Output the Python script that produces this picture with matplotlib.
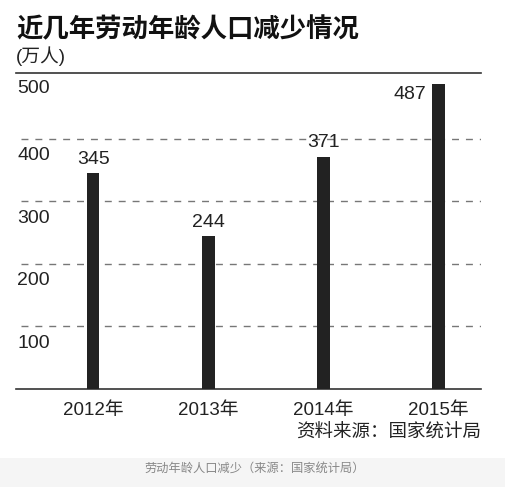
import matplotlib
matplotlib.use("Agg")
import matplotlib.pyplot as plt
from matplotlib.patches import Rectangle

years = ["2012年", "2013年", "2014年", "2015年"]
values = [345, 244, 371, 487]
yticks = [100, 200, 300, 400, 500]
title = "近几年劳动年龄人口减少情况"
unit = "(万人)"
source = "资料来源：国家统计局"
caption = "劳动年龄人口减少（来源：国家统计局）"

FAM = ["Liberation Sans", "Noto Sans CJK SC", "DejaVu Sans"]
CJK = ["Noto Sans CJK SC", "DejaVu Sans"]
plt.rcParams["font.family"] = FAM

W, H = 505, 487
fig = plt.figure(figsize=(W / 100, H / 100), dpi=100)
fig.patch.set_facecolor("white")

L, R, T, B = 16, 481, 73, 389
ax = fig.add_axes([L / W, 1 - B / H, (R - L) / W, (B - T) / H])
ax.set_xlim(-0.67, 3.37)
ax.set_ylim(0, 505)
ax.set_facecolor("none")

x = list(range(len(years)))
ax.bar(x, values, width=0.11, color="#222222", zorder=3)

for s in ["left", "right"]:
    ax.spines[s].set_visible(False)
for s in ["top", "bottom"]:
    ax.spines[s].set_color("#333333")
    ax.spines[s].set_linewidth(1.2)

for v in yticks[:-1]:
    ax.axhline(v, xmin=0.01, xmax=1, color="#777777", lw=1.0,
               linestyle=(0, (5, 5)), zorder=1)

ax.set_yticks([])
ax.set_xticks(x)
ax.set_xticklabels(years, fontsize=13.5, color="#222222")
ax.tick_params(axis="x", length=0, pad=9)

for v in yticks:
    ax.annotate(str(v), xy=(0, v), xycoords=("axes fraction", "data"),
                xytext=(1, -6 if v < 500 else -2.5), textcoords="offset points",
                ha="left", va="top", fontsize=14, color="#222222")

for xi, v in zip(x, values):
    if v > 450:
        ax.annotate(str(v), xy=(xi, v), xytext=(-9, -1),
                    textcoords="offset points", ha="right", va="top",
                    fontsize=14, color="#222222")
    else:
        ax.annotate(str(v), xy=(xi, v), xytext=(0, 4),
                    textcoords="offset points", ha="center", va="bottom",
                    fontsize=14, color="#222222", zorder=4)

fig.text(L / W, 1 - 30 / H, title, fontsize=19, fontweight="bold",
         family=CJK, ha="left", va="center", color="#111111")
fig.text(L / W, 1 - 56 / H, unit, fontsize=13.5, family=FAM,
         ha="left", va="center", color="#222222")
fig.text(R / W, 1 - 433 / H, source, fontsize=13.3, family=CJK,
         ha="right", va="center", color="#222222")

fig.patches.append(Rectangle((0, 0), 1, 29 / H, transform=fig.transFigure,
                             facecolor="#f5f5f5", edgecolor="none", zorder=0))
fig.text(255 / W, 1 - 468 / H, caption, fontsize=8.8, family=CJK,
         style="italic", ha="center", va="center", color="#888888")

fig.savefig("out.png", dpi=100, facecolor=fig.get_facecolor())
